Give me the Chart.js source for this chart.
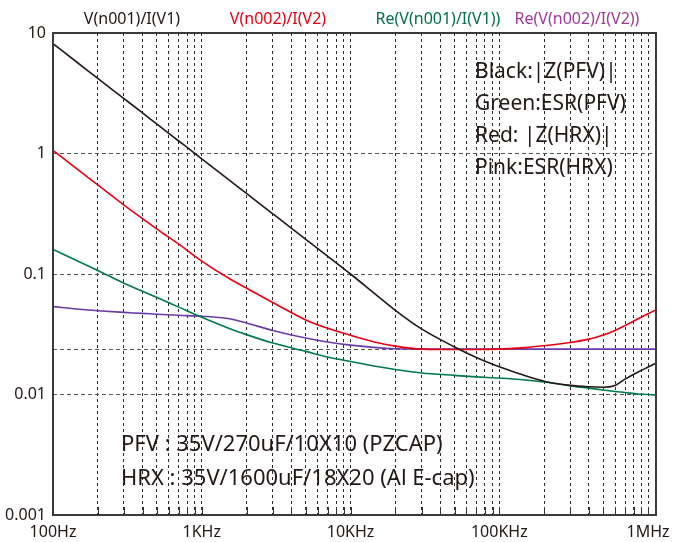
<!DOCTYPE html>
<html>
<head>
<meta charset="utf-8">
<style>
  html, body { margin: 0; padding: 0; background: #fff; }
</style>
</head>
<body>
<canvas id="zChart" width="691" height="542"></canvas>
<script src="https://cdn.jsdelivr.net/npm/chart.js@4/dist/chart.umd.min.js"></script>
<script>
// frequencies (Hz) the curves were read at
const freqs = [100, 150, 200, 300, 400, 500, 700, 1000, 1500, 2000, 3000, 5000, 7000,
  10000, 15000, 20000, 30000, 50000, 70000, 100000, 150000, 200000, 300000, 400000,
  500000, 600000, 700000, 850000, 1000000, 1130000];

// Black: |Z(PFV)|
const zPfv = [8.15, 5.53, 4.2, 2.855, 2.17, 1.75, 1.27, 0.904, 0.614, 0.466, 0.316, 0.194, 0.141,
  0.1, 0.0665, 0.05, 0.035, 0.0248, 0.0203, 0.017, 0.0143, 0.0129, 0.0119, 0.0116,
  0.0115, 0.0119, 0.0134, 0.0153, 0.0169, 0.0182];
// Red: |Z(HRX)|
const zHrx = [1.06, 0.721, 0.548, 0.373, 0.288, 0.236, 0.177, 0.128, 0.093, 0.0763, 0.058, 0.0416, 0.0355,
  0.031, 0.027, 0.0252, 0.0238, 0.0236, 0.0236, 0.0238, 0.0245, 0.0254, 0.027, 0.0288,
  0.0312, 0.034, 0.0373, 0.0423, 0.0468, 0.0504];
// Green: ESR(PFV)
const esrPfv = [0.16, 0.1265, 0.107, 0.0838, 0.0718, 0.0637, 0.0531, 0.0438, 0.0357, 0.0314, 0.0267, 0.0228, 0.0205,
  0.0188, 0.0171, 0.0161, 0.0151, 0.0144, 0.014, 0.0137, 0.0132, 0.0127, 0.0118, 0.0113,
  0.0109, 0.0106, 0.0104, 0.0101, 0.01, 0.0099];
// Pink: ESR(HRX)
const esrHrx = [0.0536, 0.051, 0.0496, 0.048, 0.0471, 0.0463, 0.0454, 0.0446, 0.0427, 0.0392, 0.034, 0.0294, 0.0273,
  0.0257, 0.0245, 0.024, 0.0238, 0.0238, 0.0238, 0.0238, 0.0238, 0.0238, 0.0238, 0.0238,
  0.0238, 0.0238, 0.0238, 0.0238, 0.0238, 0.0238];

const yTicks = [0.001, 0.01, 0.0238, 0.1, 1, 10];
const yLabels = { 0.001: "0.001", 0.01: "0.01", 0.1: "0.1", 1: "1", 10: "10" };
const xLabels = { 100: "100Hz", 1000: "1KHz", 10000: "10KHz", 100000: "100KHz", 1000000: "1MHz" };

const traceNames = ["V(n001)/I(V1)", "V(n002)/I(V2)", "Re(V(n001)/I(V1))", "Re(V(n002)/I(V2))"];
const traceColors = ["#231815", "#e60012", "#00704a", "#9e3a98"];
const noteLines = ["Black:|Z(PFV)|", "Green:ESR(PFV)", "Red: |Z(HRX)|", "Pink:ESR(HRX)"];
const partLines = ["PFV : 35V/270uF/10X10 (PZCAP)", "HRX : 35V/1600uF/18X20 (Al E-cap)"];

const FONT = "'Noto Sans', 'Open Sans', sans-serif";

// 100,200..900,1000,... up to 1MHz
const xTicks = [];
for (let d = 100; d <= 1000000; d *= 10) {
    for (let m = 1; m <= 9; m++) {
        if (d * m <= 1000000) xTicks.push(d * m);
    }
}

function series(vals) {
    return freqs.map((f, i) => ({ x: f, y: vals[i] }));
}

const decor = {
    id: "decor",
    afterDraw(chart) {
        const { ctx, chartArea: a, scales } = chart;
        ctx.save();
        // small solid ticks on the bottom axis
        ctx.strokeStyle = "#333";
        ctx.lineWidth = 1;
        xTicks.forEach(v => {
            const px = Math.round(scales.x.getPixelForValue(v)) + 0.5;
            if (px <= a.left + 1 || px >= a.right - 1) return;
            ctx.beginPath();
            ctx.moveTo(px, a.bottom);
            ctx.lineTo(px, a.bottom - 8);
            ctx.stroke();
        });
        // frame
        ctx.strokeStyle = "#3a3a3a";
        ctx.lineWidth = 2;
        ctx.strokeRect(a.left, a.top, a.right - a.left, a.bottom - a.top);

        // trace names above the plot
        ctx.font = "16px " + FONT;
        ctx.textAlign = "center";
        ctx.textBaseline = "middle";
        const nameX = [132, 278, 438, 577];
        traceNames.forEach((t, i) => {
            ctx.fillStyle = traceColors[i];
            ctx.fillText(t, nameX[i], 19);
        });

        // notes
        ctx.fillStyle = "#231815";
        ctx.textAlign = "left";
        ctx.font = "21px " + FONT;
        const noteY = [72, 104, 136, 168];
        noteLines.forEach((t, i) => ctx.fillText(t, 475, noteY[i]));
        ctx.font = "22px " + FONT;
        const partY = [445, 479];
        partLines.forEach((t, i) => ctx.fillText(t, 121, partY[i]));
        ctx.restore();
    }
};

function line(label, vals, color, order) {
    return {
        label: label,
        data: series(vals),
        borderColor: color,
        borderWidth: 1.6,
        pointRadius: 0,
        cubicInterpolationMode: "monotone",
        fill: false,
        order: order
    };
}

new Chart(document.getElementById("zChart"), {
    type: "line",
    data: {
        datasets: [
            line("|Z(PFV)|", zPfv, "#231815", 0),
            line("|Z(HRX)|", zHrx, "#e60012", 1),
            line("ESR(PFV)", esrPfv, "#007a4c", 2),
            line("ESR(HRX)", esrHrx, "#6a3aa8", 3)
        ]
    },
    options: {
        responsive: false,
        animation: false,
        layout: { padding: { top: 33, right: 35, left: 0, bottom: 0 } },
        plugins: {
            legend: { display: false },
            tooltip: { enabled: false }
        },
        scales: {
            x: {
                type: "logarithmic",
                min: 100,
                max: 1130000,
                afterBuildTicks: scale => { scale.ticks = xTicks.map(v => ({ value: v })); },
                afterFit: scale => { scale.height = 27; },
                ticks: {
                    autoSkip: false,
                    maxRotation: 0,
                    padding: 8,
                    color: "#231815",
                    font: { family: FONT, size: 16 },
                    callback: v => xLabels[v] || ""
                },
                grid: { color: "#2a2a2a", lineWidth: 1, drawTicks: false },
                border: { display: false, dash: [3, 3] }
            },
            y: {
                type: "logarithmic",
                min: 0.001,
                max: 10,
                afterBuildTicks: scale => { scale.ticks = yTicks.map(v => ({ value: v })); },
                afterFit: scale => { scale.width = 53; },
                ticks: {
                    autoSkip: false,
                    padding: 7,
                    color: "#231815",
                    font: { family: FONT, size: 16 },
                    callback: v => yLabels[v] || ""
                },
                grid: { color: "#555", lineWidth: 1, drawTicks: false },
                border: { display: false, dash: [4, 3] }
            }
        }
    },
    plugins: [decor]
});
</script>
</body>
</html>
